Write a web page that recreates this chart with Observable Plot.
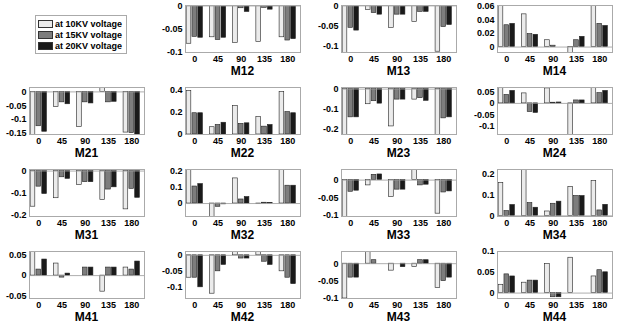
<!DOCTYPE html>
<html><head><meta charset="utf-8">
<script src="https://cdn.jsdelivr.net/npm/d3@7"></script>
<script src="https://cdn.jsdelivr.net/npm/@observablehq/plot@0.6"></script>
<style>
body{margin:0;background:#fff;font-family:"Liberation Sans",Arial,sans-serif;}
#root{position:relative;width:617px;height:325px;overflow:hidden;background:#fff;}
.panel{position:absolute;}
.title{position:absolute;font-weight:bold;font-size:12px;text-align:center;width:80px;}
.legend{position:absolute;left:35px;top:15px;width:88px;padding:2px 0 2px 2px;border:1px solid #aaa;background:#fff;}
.legend .row{display:flex;align-items:center;height:11px;font-size:9px;font-weight:bold;}
.legend .sw{width:15px;height:8px;border:1px solid #333;margin-right:2px;box-sizing:border-box;}
</style>
</head><body>
<div id="root"></div>
<script>
// categories and series
const angles = ["0", "45", "90", "135", "180"];
const series = ["at 10KV voltage", "at 15KV voltage", "at 20KV voltage"];
const colors = ["#ebebeb", "#7d7d7d", "#1a1a1a"];
const names = ["M12","M13","M14","M21","M22","M23","M24","M31","M32","M33","M34","M41","M42","M43","M44"];

// values per element: [10KV, 15KV, 20KV] x angles
const M12 = [[-0.082,-0.068,-0.080,-0.078,-0.068],[-0.067,-0.074,-0.005,-0.004,-0.075],[-0.069,-0.069,-0.013,-0.008,-0.072]];
const M13 = [[-0.14,-0.010,-0.055,-0.040,-0.115],[-0.055,-0.018,-0.022,-0.015,-0.053],[-0.062,-0.022,-0.022,-0.015,-0.048]];
const M14 = [[0.07,0.048,0.010,-0.01,0.07],[0.032,0.019,0.002,0.010,0.034],[0.034,0.018,0.0,0.015,0.031]];
const M21 = [[-0.16,-0.055,-0.128,0.014,-0.148],[-0.125,-0.038,-0.038,-0.038,-0.150],[-0.145,-0.045,-0.042,-0.036,-0.155]];
const M22 = [[0.39,0.065,0.255,0.155,0.38],[0.19,0.085,0.095,0.07,0.20],[0.19,0.105,0.10,0.085,0.19]];
const M23 = [[-0.25,-0.075,-0.185,-0.052,-0.228],[-0.14,-0.060,-0.052,-0.045,-0.145],[-0.14,-0.072,-0.052,-0.058,-0.14]];
const M24 = [[0.08,0.044,0.066,-0.15,0.08],[0.037,-0.038,0.003,0.013,0.045],[0.055,-0.042,0.004,0.013,0.055]];
const M31 = [[-0.16,-0.122,-0.062,-0.130,-0.172],[-0.07,-0.028,-0.050,-0.083,-0.080],[-0.103,-0.035,-0.050,-0.073,-0.120]];
const M32 = [[0.25,-0.10,0.155,-0.003,0.25],[0.105,-0.020,0.025,0.005,0.11],[0.12,-0.005,0.040,0.003,0.11]];
const M33 = [[-0.11,-0.015,-0.048,0.04,-0.095],[-0.033,0.015,-0.027,-0.015,-0.035],[-0.030,0.016,-0.027,-0.013,-0.032]];
const M34 = [[0.158,0.25,0.021,0.139,0.166],[0.023,0.061,0.058,0.095,0.026],[0.052,0.039,0.068,0.095,0.053]];
const M41 = [[0.07,0.03,0.0,-0.04,0.02],[0.015,-0.005,0.02,0.02,0.015],[0.04,0.005,0.02,0.02,0.035]];
const M42 = [[-0.07,-0.12,0.02,0.02,-0.05],[-0.07,-0.05,-0.01,-0.02,-0.07],[-0.10,-0.03,-0.01,-0.03,-0.09]];
const M43 = [[-0.10,0.05,-0.02,-0.01,-0.07],[-0.04,0.01,0.0,0.01,-0.05],[-0.04,0.0,-0.01,0.01,-0.04]];
const M44 = [[0.02,0.025,0.07,0.085,0.04],[0.045,0.03,-0.01,0.0,0.055],[0.04,0.03,-0.01,0.0,0.05]];
const values = [M12,M13,M14,M21,M22,M23,M24,M31,M32,M33,M34,M41,M42,M43,M44];

// y domains and tick labels per element
const yDomains = [[-0.101,0.001],[-0.117,0.001],[-0.008,0.061],[-0.155,0.016],[0,0.42],[-0.225,0.008],[-0.137,0.07],[-0.204,0.007],[-0.08,0.21],[-0.103,0.03],[-0.003,0.222],[-0.057,0.06],[-0.135,0.012],[-0.1,0.035],[-0.013,0.1]];
const yTicks = [[0,-0.05,-0.1],[0,-0.05,-0.1],[0,0.02,0.04,0.06],[0,-0.05,-0.1,-0.15],[0,0.2,0.4],[0,-0.1,-0.2],[0.05,0,-0.05,-0.1],[0,-0.1,-0.2],[0,0.1,0.2],[0,-0.05,-0.1],[0,0.1,0.2],[0.05,0,-0.05],[0,-0.05,-0.1],[0,-0.05,-0.1],[0,0.05,0.1]];

const root = document.getElementById("root");
const FW = 115, FH = 47, ML = 34, MR = 3, MT = 5, MB = 13;
const fmt = d => String(+d.toFixed(3));

names.forEach((name, k) => {
  const pos = k + 1, row = Math.floor(pos / 4), col = pos % 4;
  const fl = 29 + col * 156, ft = 5 + row * 82;
  const data = [];
  values[k].forEach((arr, s) => arr.forEach((v, i) => data.push({i, s, series: series[s], v})));
  const chart = Plot.plot({
    width: ML + FW + MR, height: MT + FH + MB,
    marginLeft: ML, marginRight: MR, marginTop: MT, marginBottom: MB,
    style: {fontFamily: "Liberation Sans, Arial, sans-serif", fontSize: "9px", fontWeight: "bold", color: "#000", background: "transparent", overflow: "visible"},
    x: {type: "linear", domain: [-0.4, 4.55], ticks: [0,1,2,3,4], tickFormat: i => angles[i], tickSize: 0, tickPadding: 3, label: null},
    y: {domain: yDomains[k], ticks: yTicks[k], tickFormat: fmt, tickSize: 0, tickPadding: 3, label: null},
    color: {domain: series, range: colors},
    marks: [
      Plot.rectY(data, {x1: d => d.i + (d.s - 1) * 0.25 - 0.1, x2: d => d.i + (d.s - 1) * 0.25 + 0.1, y1: 0, y2: "v", fill: "series", stroke: "#222", strokeWidth: 0.6, clip: true}),
      Plot.ruleY([0], {stroke: "#999", strokeWidth: 0.8, clip: true}),
      Plot.frame({stroke: "#aaa"})
    ]
  });
  const div = document.createElement("div");
  div.className = "panel";
  div.style.left = (fl - ML) + "px";
  div.style.top = (ft - MT) + "px";
  div.appendChild(chart);
  root.appendChild(div);
  const t = document.createElement("div");
  t.className = "title";
  t.textContent = name;
  t.style.left = (fl + FW / 2 - 40) + "px";
  t.style.top = (ft + 59) + "px";
  root.appendChild(t);
});

const leg = document.createElement("div");
leg.className = "legend";
series.forEach((s, i) => {
  const r = document.createElement("div");
  r.className = "row";
  const sw = document.createElement("div");
  sw.className = "sw";
  sw.style.background = colors[i];
  r.appendChild(sw);
  r.appendChild(document.createTextNode(s));
  leg.appendChild(r);
});
root.appendChild(leg);
</script>
</body></html>
